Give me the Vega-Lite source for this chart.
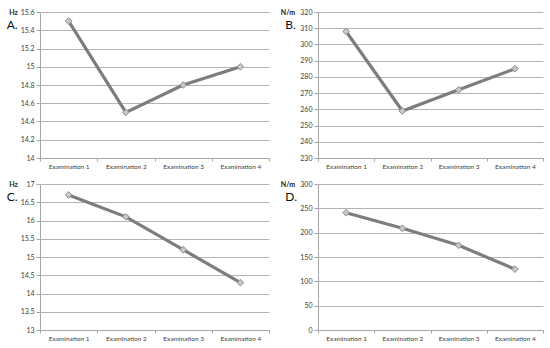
{
  "$schema": "https://vega.github.io/schema/vega-lite/v6.json",
  "background": "white",
  "padding": {"left": 6, "top": 8, "right": 7, "bottom": 0},
  "datasets": {
    "A": [{"exam": "Examination 1", "value": 15.5}, {"exam": "Examination 2", "value": 14.5}, {"exam": "Examination 3", "value": 14.8}, {"exam": "Examination 4", "value": 15.0}],
    "B": [{"exam": "Examination 1", "value": 308}, {"exam": "Examination 2", "value": 259}, {"exam": "Examination 3", "value": 272}, {"exam": "Examination 4", "value": 285}],
    "C": [{"exam": "Examination 1", "value": 16.7}, {"exam": "Examination 2", "value": 16.1}, {"exam": "Examination 3", "value": 15.2}, {"exam": "Examination 4", "value": 14.3}],
    "D": [{"exam": "Examination 1", "value": 241}, {"exam": "Examination 2", "value": 209}, {"exam": "Examination 3", "value": 174}, {"exam": "Examination 4", "value": 125}]
  },
  "vconcat": [
    {
      "hconcat": [
        {
          "width": 229, "height": 146,
          "data": {"name": "A"},
          "title": {"text": "A.", "anchor": "start", "frame": "bounds", "dy": 24, "dx": -2, "offset": 0},
          "encoding": {
            "x": {"field": "exam", "type": "nominal", "sort": null, "scale": {"type": "band", "paddingInner": 0, "paddingOuter": 0}, "axis": {"title": null}},
            "y": {"field": "value", "type": "quantitative", "scale": {"domain": [14, 15.6], "nice": false, "zero": false},
                  "axis": {"values": [14, 14.2, 14.4, 14.6, 14.8, 15, 15.2, 15.4, 15.6], "title": "Hz", "titleX": -27}}
          },
          "layer": [
            {"mark": {"type": "line", "color": "#7d7d7d", "strokeWidth": 3.2}},
            {"mark": {"type": "point", "shape": "diamond", "filled": true, "fill": "#c8c8c8", "stroke": "#8c8c8c", "strokeWidth": 1, "size": 45, "opacity": 1}}
          ]
        },
        {
          "width": 225, "height": 146,
          "data": {"name": "B"},
          "title": {"text": "B.", "anchor": "start", "frame": "bounds", "dy": 24, "dx": 5, "offset": 0},
          "encoding": {
            "x": {"field": "exam", "type": "nominal", "sort": null, "scale": {"type": "band", "paddingInner": 0, "paddingOuter": 0}, "axis": {"title": null}},
            "y": {"field": "value", "type": "quantitative", "scale": {"domain": [230, 320], "nice": false, "zero": false},
                  "axis": {"values": [230, 240, 250, 260, 270, 280, 290, 300, 310, 320], "title": "N/m", "titleX": -30.5}}
          },
          "layer": [
            {"mark": {"type": "line", "color": "#7d7d7d", "strokeWidth": 3.2}},
            {"mark": {"type": "point", "shape": "diamond", "filled": true, "fill": "#c8c8c8", "stroke": "#8c8c8c", "strokeWidth": 1, "size": 45, "opacity": 1}}
          ]
        }
      ]
    },
    {
      "hconcat": [
        {
          "width": 229, "height": 146,
          "data": {"name": "C"},
          "title": {"text": "C.", "anchor": "start", "frame": "bounds", "dy": 24, "dx": -2, "offset": 0},
          "encoding": {
            "x": {"field": "exam", "type": "nominal", "sort": null, "scale": {"type": "band", "paddingInner": 0, "paddingOuter": 0}, "axis": {"title": null}},
            "y": {"field": "value", "type": "quantitative", "scale": {"domain": [13, 17], "nice": false, "zero": false},
                  "axis": {"values": [13, 13.5, 14, 14.5, 15, 15.5, 16, 16.5, 17], "title": "Hz", "titleX": -27}}
          },
          "layer": [
            {"mark": {"type": "line", "color": "#7d7d7d", "strokeWidth": 3.2}},
            {"mark": {"type": "point", "shape": "diamond", "filled": true, "fill": "#c8c8c8", "stroke": "#8c8c8c", "strokeWidth": 1, "size": 45, "opacity": 1}}
          ]
        },
        {
          "width": 225, "height": 146,
          "data": {"name": "D"},
          "title": {"text": "D.", "anchor": "start", "frame": "bounds", "dy": 24, "dx": 5, "offset": 0},
          "encoding": {
            "x": {"field": "exam", "type": "nominal", "sort": null, "scale": {"type": "band", "paddingInner": 0, "paddingOuter": 0}, "axis": {"title": null}},
            "y": {"field": "value", "type": "quantitative", "scale": {"domain": [0, 300], "nice": false, "zero": false},
                  "axis": {"values": [0, 50, 100, 150, 200, 250, 300], "title": "N/m", "titleX": -30.5}}
          },
          "layer": [
            {"mark": {"type": "line", "color": "#7d7d7d", "strokeWidth": 3.2}},
            {"mark": {"type": "point", "shape": "diamond", "filled": true, "fill": "#c8c8c8", "stroke": "#8c8c8c", "strokeWidth": 1, "size": 45, "opacity": 1}}
          ]
        }
      ]
    }
  ],
  "spacing": 8,
  "config": {
    "concat": {"spacing": 10},
    "view": {"stroke": null},
    "font": "Lato",
    "title": {"font": "Lato", "fontSize": 12, "fontWeight": "normal", "color": "#111111"},
    "axis": {
      "labelFont": "Lato", "labelFontSize": 7, "labelColor": "#404040",
      "domainColor": "#a6a6a6", "tickColor": "#a6a6a6", "gridColor": "#b4b4b4",
      "tickSize": 4, "labelPadding": 2
    },
    "axisX": {"grid": false, "tickBand": "extent", "labelAngle": 0, "labelFontSize": 6.5, "tickSize": 3, "labelPadding": 2, "minExtent": 14, "maxExtent": 14},
    "axisY": {"grid": true, "labelExpr": "'' + datum.value", "minExtent": 19, "maxExtent": 19,
              "titleAngle": 0, "titleY": 0, "titleAlign": "center", "titleBaseline": "middle",
              "titleFont": "Lato", "titleFontSize": 7, "titleFontWeight": "bold", "titleColor": "#222222"}
  }
}
